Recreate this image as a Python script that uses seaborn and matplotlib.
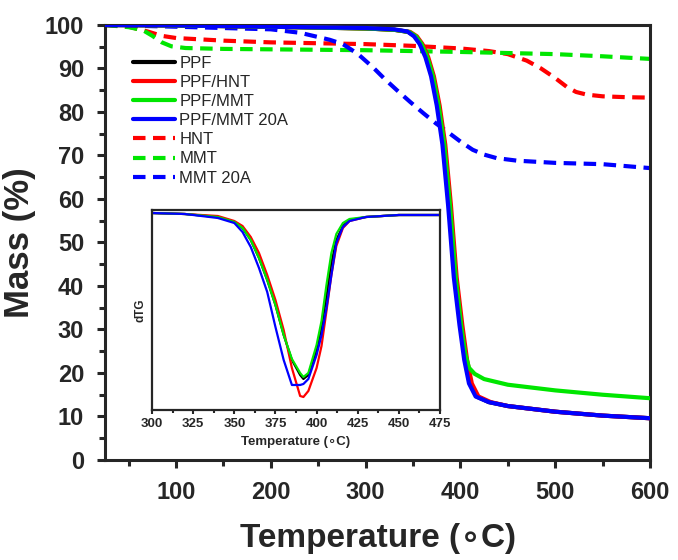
import numpy as np
import pandas as pd
import seaborn as sns
import matplotlib.pyplot as plt
from matplotlib.ticker import MultipleLocator

# TGA data (temperature in C, mass in %)
t_ppf = [25, 100, 200, 300, 330, 345, 352, 358, 364, 370, 376, 382, 388, 394, 400, 405, 410, 417, 430, 450, 500, 550, 600]
m_ppf = [100, 99.9, 99.6, 99.2, 98.9, 98.4, 97.4, 95.6, 92.6, 88.2, 81.5, 72.5, 58.5, 42, 31, 23, 17.6, 14.6, 13.3, 12.4, 11.1, 10.2, 9.6]

t_hnt_c = [25, 100, 200, 300, 330, 347, 354, 360, 366, 372, 378, 384, 390, 396, 402, 407, 412, 419, 432, 450, 500, 550, 600]
m_hnt_c = [100, 99.9, 99.6, 99.2, 98.9, 98.4, 97.4, 95.6, 92.6, 88.2, 81.5, 72.5, 58.5, 42, 31, 23, 17.6, 14.6, 13.3, 12.4, 11.1, 10.2, 9.6]

t_mmt_c = [25, 100, 200, 300, 330, 346, 353, 359, 365, 371, 377, 383, 389, 395, 401, 405, 409, 415, 425, 450, 500, 550, 600]
m_mmt_c = [100, 99.9, 99.6, 99.2, 98.9, 98.4, 97.4, 95.6, 92.6, 88.2, 81.5, 72.5, 58.5, 42, 30.5, 24.5, 21.2, 19.8, 18.6, 17.3, 16.0, 15.0, 14.2]

t_20a_c = [25, 100, 200, 300, 330, 344, 351, 357, 363, 369, 375, 381, 387, 393, 399, 404, 409, 416, 430, 450, 500, 550, 600]
m_20a_c = [100, 99.9, 99.6, 99.3, 99.0, 98.5, 97.4, 95.6, 92.6, 88.2, 81.5, 72.5, 58.5, 42, 31, 23, 17.6, 14.6, 13.3, 12.4, 11.1, 10.2, 9.6]

t_hnt = [25, 50, 70, 85, 100, 150, 200, 250, 300, 350, 400, 430, 450, 470, 485, 500, 512, 522, 533, 550, 575, 600]
m_hnt = [100, 99.6, 98.5, 97.5, 97.0, 96.4, 96.0, 95.8, 95.6, 95.2, 94.6, 94.0, 93.3, 91.8, 90.0, 87.8, 85.8, 84.6, 84.0, 83.6, 83.4, 83.3]

t_mmt = [25, 50, 65, 75, 85, 95, 110, 150, 200, 300, 400, 500, 550, 600]
m_mmt = [100, 99.5, 98.8, 97.5, 96.0, 95.1, 94.7, 94.5, 94.4, 94.2, 93.8, 93.3, 92.8, 92.2]

t_20a = [25, 100, 150, 200, 231, 262, 276, 292, 308, 320, 333, 347, 361, 374, 386, 400, 413, 425, 438, 460, 500, 550, 600]
m_20a = [100, 99.6, 99.3, 99.0, 98.2, 96.6, 95.6, 93.3, 90.2, 87.6, 85.0, 82.3, 79.7, 77.4, 75.5, 73.2, 71.3, 70.2, 69.4, 68.8, 68.3, 68.0, 67.1]

# DTG inset (arbitrary units, 0 = baseline)
t_dtg = [300, 320, 340, 350, 355, 360, 365, 370, 375, 380, 385, 390, 392, 395, 400, 403, 406, 409, 412, 416, 420, 430, 450, 475]
d_ppf = [0, -0.01, -0.04, -0.09, -0.15, -0.27, -0.45, -0.67, -0.92, -1.22, -1.47, -1.62, -1.66, -1.62, -1.37, -1.14, -0.84, -0.50, -0.27, -0.13, -0.07, -0.04, -0.02, -0.02]
d_hnt = [0, -0.01, -0.03, -0.08, -0.13, -0.24, -0.40, -0.62, -0.87, -1.17, -1.55, -1.83, -1.84, -1.78, -1.55, -1.33, -0.98, -0.62, -0.33, -0.15, -0.08, -0.04, -0.02, -0.02]
d_mmt = [0, -0.01, -0.04, -0.09, -0.15, -0.27, -0.45, -0.67, -0.92, -1.22, -1.46, -1.60, -1.64, -1.60, -1.32, -1.08, -0.72, -0.40, -0.21, -0.10, -0.06, -0.04, -0.02, -0.02]
d_20a = [0, -0.01, -0.05, -0.10, -0.19, -0.34, -0.55, -0.79, -1.14, -1.47, -1.72, -1.72, -1.71, -1.66, -1.42, -1.22, -0.95, -0.62, -0.30, -0.14, -0.08, -0.04, -0.02, -0.02]

red, green, blue = "#ff0000", "#00e600", "#0000ff"

sns.set_style("ticks")
plt.rcParams["font.family"] = ["Liberation Sans", "DejaVu Sans"]
plt.rcParams["axes.linewidth"] = 2.2

fig = plt.figure(figsize=(6.78, 5.6), dpi=100)
ax = fig.add_axes([0.1549, 0.1786, 0.8038, 0.7768])

solid = [("PPF", t_ppf, m_ppf, "black"),
         ("PPF/HNT", t_hnt_c, m_hnt_c, red),
         ("PPF/MMT", t_mmt_c, m_mmt_c, green),
         ("PPF/MMT 20A", t_20a_c, m_20a_c, blue)]
dashed = [("HNT", t_hnt, m_hnt, red),
          ("MMT", t_mmt, m_mmt, green),
          ("MMT 20A", t_20a, m_20a, blue)]

for name, t, m, c in solid:
    sns.lineplot(x=t, y=m, ax=ax, color=c, lw=3, label=name, zorder=3)
for name, t, m, c in dashed:
    sns.lineplot(x=t, y=m, ax=ax, color=c, lw=3, label=name, zorder=2,
                 linestyle=(0, (3, 1.8)))

ax.set_xlim(25, 600)
ax.set_ylim(0, 100)
ax.xaxis.set_major_locator(MultipleLocator(100))
ax.xaxis.set_minor_locator(MultipleLocator(50))
ax.yaxis.set_major_locator(MultipleLocator(10))
ax.yaxis.set_minor_locator(MultipleLocator(5))
ax.tick_params(which="major", direction="out", length=6, width=2.2,
               labelsize=17, pad=9)
ax.tick_params(which="minor", direction="out", length=4, width=2.2)
for lab in ax.get_xticklabels() + ax.get_yticklabels():
    lab.set_fontweight("bold")
ax.set_xlabel("Temperature (\u2218C)", fontsize=24, fontweight="bold", labelpad=14)
ax.set_ylabel("Mass (%)", fontsize=25, fontweight="bold", labelpad=6)

leg = ax.legend(loc="upper left", bbox_to_anchor=(0.04, 0.945), frameon=False,
                fontsize=12, handlelength=2.5, handletextpad=0.25,
                labelspacing=0.25, borderaxespad=0)

# inset with DTG curves
ins = fig.add_axes([0.2242, 0.2679, 0.4248, 0.3571])
for d, c in [(d_ppf, "black"), (d_hnt, red), (d_mmt, green), (d_20a, blue)]:
    sns.lineplot(x=t_dtg, y=d, ax=ins, color=c, lw=1.6)
ins.set_xlim(300, 475)
ins.set_ylim(-1.97, 0.03)
ins.xaxis.set_major_locator(MultipleLocator(25))
ins.xaxis.set_minor_locator(MultipleLocator(12.5))
ins.set_yticks([])
for s in ins.spines.values():
    s.set_linewidth(1.6)
ins.tick_params(which="major", direction="out", length=3, width=1.5,
                labelsize=9.5, pad=3)
ins.tick_params(which="minor", direction="out", length=2, width=1.5)
for lab in ins.get_xticklabels():
    lab.set_fontweight("bold")
ins.set_xlabel("Temperature (\u2218C)", fontsize=9.5, fontweight="bold", labelpad=4)
ins.set_ylabel("dTG", fontsize=8.5, fontweight="bold", labelpad=4)

fig.savefig("out.png", dpi=100)
